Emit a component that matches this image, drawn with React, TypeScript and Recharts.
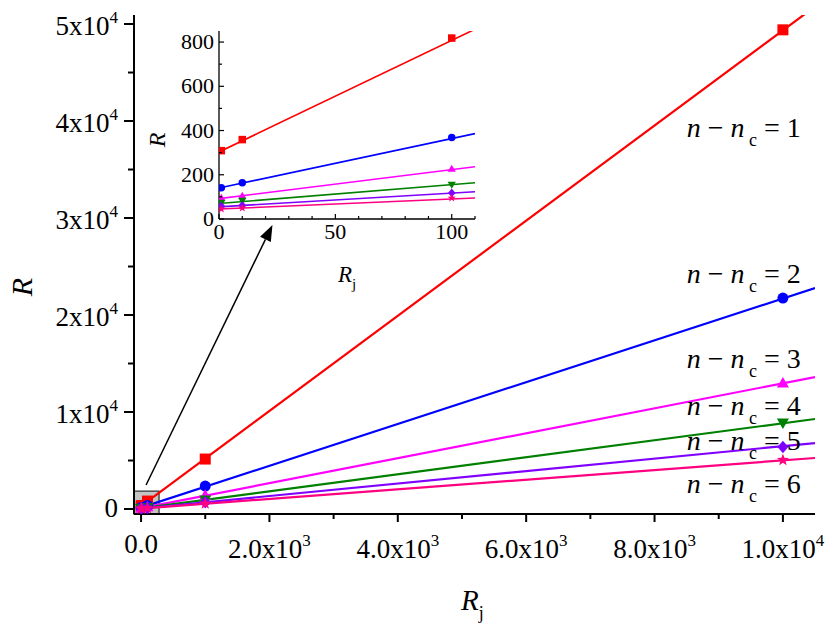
import React from 'react';
import {
  ComposedChart,
  Line,
  Scatter,
  XAxis,
  YAxis,
  ReferenceArea,
  ReferenceLine,
  ReferenceDot,
  CartesianGrid,
} from 'recharts';

const FONT = '"Liberation Serif"';
const TXT = { fontFamily: FONT };

// ---- data ----
const rjValues = [1, 10, 100, 1000, 10000];
const redR = [309, 359, 818, 5150, 49400];
const blueR = [141, 164, 368, 2370, 21750];
const magentaR = [95, 105, 227, 1420, 12990];
const greenR = [73, 82, 155, 950, 8870];
const purpleR = [59, 62, 118, 700, 6390];
const pinkR = [45, 50, 95, 560, 5050];

// straight fit lines, endpoints
const fitRjMain = [0, 10500];
const redFitMain = [300, 51800];
const blueFitMain = [140, 22780];
const magentaFitMain = [92, 13600];
const greenFitMain = [70, 9280];
const purpleFitMain = [55, 6800];
const pinkFitMain = [45, 5260];

const fitRjInset = [0, 110];
const redFitInset = [303, 858];
const blueFitInset = [140, 386];
const magentaFitInset = [92, 236];
const greenFitInset = [70, 164];
const purpleFitInset = [55, 123];
const pinkFitInset = [45, 95];

const seriesNames = ['1', '2', '3', '4', '5', '6'];
const labelRj = 10280;
const labelR = [38350, 23300, 14540, 9690, 6080, 1650];

// ticks
const mainXTicks = [0, 1000, 2000, 3000, 4000, 5000, 6000, 7000, 8000, 9000, 10000];
const mainXMajor = [0, 2000, 4000, 6000, 8000, 10000];
const mainXMajorText = ['0.0', '2.0x10', '4.0x10', '6.0x10', '8.0x10', '1.0x10'];
const mainXMajorExp = ['', '3', '3', '3', '3', '4'];
const mainYTicks = [0, 5000, 10000, 15000, 20000, 25000, 30000, 35000, 40000, 45000, 50000];
const mainYMajor = [0, 10000, 20000, 30000, 40000, 50000];
const mainYMajorText = ['0', '1x10', '2x10', '3x10', '4x10', '5x10'];
const mainYMajorExp = ['', '4', '4', '4', '4', '4'];

const insetXTicks = [0, 10, 20, 30, 40, 50, 60, 70, 80, 90, 100, 110];
const insetXMajor = [0, 50, 100];
const insetYTicks = [0, 100, 200, 300, 400, 500, 600, 700, 800];
const insetYMajor = [0, 200, 400, 600, 800];

const mainXDomain = [-110, 10500];
const mainYDomain = [-515, 50930];
const insetXDomain = [0, 110];
const insetYDomain = [0, 850];

// zoom box and arrow (data coordinates)
const zoomBoxRj = [-110, 280];
const zoomBoxR = [-515, 1850];
const arrowRj = [78, 2047];
const arrowR = [2470, 29280];

const colors = ['#ff0000', '#0000ff', '#ff00ff', '#008000', '#8000ff', '#ff0080'];
const kinds = ['square', 'circle', 'up', 'down', 'diamond', 'star'];
const seriesR = [redR, blueR, magentaR, greenR, purpleR, pinkR];
const fitsMain = [redFitMain, blueFitMain, magentaFitMain, greenFitMain, purpleFitMain, pinkFitMain];
const fitsInset = [redFitInset, blueFitInset, magentaFitInset, greenFitInset, purpleFitInset, pinkFitInset];

const pts = (xs: number[], ys: number[]) => xs.map((x, i) => ({ x, y: ys[i] }));

function Marker({ cx, cy, kind, color, s }: any) {
  if (cx == null || cy == null) return null;
  const h = s / 2;
  switch (kind) {
    case 'square':
      return <rect x={cx - h} y={cy - h} width={s} height={s} fill={color} />;
    case 'circle':
      return <circle cx={cx} cy={cy} r={h} fill={color} />;
    case 'up':
      return (
        <polygon
          points={`${cx},${cy - h * 1.1} ${cx - h * 1.1},${cy + h * 0.8} ${cx + h * 1.1},${cy + h * 0.8}`}
          fill={color}
        />
      );
    case 'down':
      return (
        <polygon
          points={`${cx},${cy + h * 1.1} ${cx - h * 1.1},${cy - h * 0.8} ${cx + h * 1.1},${cy - h * 0.8}`}
          fill={color}
        />
      );
    case 'diamond':
      return (
        <polygon
          points={`${cx},${cy - h * 1.15} ${cx + h},${cy} ${cx},${cy + h * 1.15} ${cx - h},${cy}`}
          fill={color}
        />
      );
    case 'star': {
      const R = h * 1.15;
      const r = R * 0.42;
      const p: string[] = [];
      for (let i = 0; i < 10; i++) {
        const a = -Math.PI / 2 + (i * Math.PI) / 5;
        const rr = i % 2 === 0 ? R : r;
        p.push(`${cx + rr * Math.cos(a)},${cy + rr * Math.sin(a)}`);
      }
      return <polygon points={p.join(' ')} fill={color} />;
    }
    default:
      return null;
  }
}

// ---- main ticks ----
const MainXTick = ({ x, y, payload }: any) => {
  const v = payload.value;
  const mi = mainXMajor.indexOf(v);
  const major = mi >= 0;
  const exp = major ? mainXMajorExp[mi] : '';
  return (
    <g>
      <line x1={x} x2={x} y1={y} y2={y + (major ? 8 : 5)} stroke="#000" strokeWidth={2} />
      {major && (
        <text x={x} y={y + (exp ? 44 : 39)} textAnchor="middle" style={TXT} fontSize={27} fill="#000">
          {mainXMajorText[mi]}
          {exp && (
            <tspan dy={-12} fontSize={17}>
              {exp}
            </tspan>
          )}
        </text>
      )}
    </g>
  );
};

const MainYTick = ({ x, y, payload }: any) => {
  const v = payload.value;
  const mi = mainYMajor.indexOf(v);
  const major = mi >= 0;
  const exp = major ? mainYMajorExp[mi] : '';
  return (
    <g>
      <line x1={x - (major ? 10 : 6)} x2={x} y1={y} y2={y} stroke="#000" strokeWidth={2} />
      {major && (
        <text x={x - 16} y={y + (exp ? 11 : 8)} textAnchor="end" style={TXT} fontSize={27} fill="#000">
          {mainYMajorText[mi]}
          {exp && (
            <tspan dy={-12} fontSize={17}>
              {exp}
            </tspan>
          )}
        </text>
      )}
    </g>
  );
};

const MainTopTick = ({ x, y, payload }: any) => {
  const major = mainXMajor.indexOf(payload.value) >= 0;
  return <line x1={x} x2={x} y1={y} y2={y + (major ? 9 : 5)} stroke="#000" strokeWidth={2} />;
};

const MainRightTick = ({ x, y, payload }: any) => {
  const major = mainYMajor.indexOf(payload.value) >= 0;
  return <line x1={x - (major ? 10 : 6)} x2={x} y1={y} y2={y} stroke="#000" strokeWidth={2} />;
};

// ---- inset ticks ----
const InsetXTick = ({ x, y, payload }: any) => {
  const v = payload.value;
  const major = insetXMajor.indexOf(v) >= 0;
  return (
    <g>
      <line x1={x} x2={x} y1={y} y2={y - (major ? 5 : 3)} stroke="#000" strokeWidth={1.2} />
      {major && (
        <text x={x} y={y + 20} textAnchor="middle" style={TXT} fontSize={22} fill="#000">
          {v}
        </text>
      )}
    </g>
  );
};

const InsetYTick = ({ x, y, payload }: any) => {
  const v = payload.value;
  const major = insetYMajor.indexOf(v) >= 0;
  return (
    <g>
      <line x1={x} x2={x + (major ? 5 : 3)} y1={y} y2={y} stroke="#000" strokeWidth={1.2} />
      {major && (
        <text x={x - 5} y={y + 7} textAnchor="end" style={TXT} fontSize={22} fill="#000">
          {v}
        </text>
      )}
    </g>
  );
};

const InsetTopTick = ({ x, y, payload }: any) => {
  const major = insetXMajor.indexOf(payload.value) >= 0;
  return <line x1={x} x2={x} y1={y} y2={y + (major ? 5 : 3)} stroke="#000" strokeWidth={1.2} />;
};

const InsetRightTick = ({ x, y, payload }: any) => {
  const major = insetYMajor.indexOf(payload.value) >= 0;
  return <line x1={x - (major ? 5 : 3)} x2={x} y1={y} y2={y} stroke="#000" strokeWidth={1.2} />;
};

const Arrow = (props: any) => {
  const { x1, y1, x2, y2 } = props;
  if ([x1, y1, x2, y2].some((v) => v == null || isNaN(v))) return null;
  const dx = x2 - x1;
  const dy = y2 - y1;
  const len = Math.sqrt(dx * dx + dy * dy);
  const ux = dx / len;
  const uy = dy / len;
  const hl = 16;
  const hw = 6;
  const bx = x2 - ux * hl;
  const by = y2 - uy * hl;
  return (
    <g>
      <line x1={x1} y1={y1} x2={bx} y2={by} stroke="#000" strokeWidth={1.5} />
      <polygon
        points={`${x2},${y2} ${bx - uy * hw},${by + ux * hw} ${bx + uy * hw},${by - ux * hw}`}
        fill="#000"
      />
    </g>
  );
};

const SeriesLabel = (props: any) => {
  const { cx, cy, name } = props;
  if (cx == null || cy == null) return null;
  return (
    <text x={cx} y={cy} textAnchor="end" style={TXT} fontSize={28} fill="#000">
      <tspan fontStyle="italic">n</tspan>
      <tspan>{' \u2212 '}</tspan>
      <tspan fontStyle="italic">n</tspan>
      <tspan fontSize={18} dy={9}>
        {' c'}
      </tspan>
      <tspan dy={-9}>{' = ' + name}</tspan>
    </text>
  );
};

const axisLineStyle = { stroke: '#000', strokeWidth: 2 };

function MainChart() {
  return (
    <ComposedChart width={830} height={628} margin={{ top: 15, right: 15, left: 0, bottom: 0 }}>
      <XAxis
        type="number"
        dataKey="x"
        domain={mainXDomain}
        allowDataOverflow
        ticks={mainXTicks}
        interval={0}
        height={114}
        tickSize={0}
        tickMargin={0}
        tickLine={false}
        axisLine={axisLineStyle}
        tick={(p: any) => <MainXTick {...p} />}
      />
      <XAxis
        xAxisId="top"
        orientation="top"
        type="number"
        dataKey="x"
        domain={mainXDomain}
        allowDataOverflow
        ticks={mainXTicks}
        interval={0}
        height={0}
        tickSize={0}
        tickMargin={0}
        tickLine={false}
        axisLine={axisLineStyle}
        tick={(p: any) => <MainTopTick {...p} />}
      />
      <YAxis
        type="number"
        dataKey="y"
        domain={mainYDomain}
        allowDataOverflow
        ticks={mainYTicks}
        interval={0}
        width={134}
        tickSize={0}
        tickMargin={0}
        tickLine={false}
        axisLine={axisLineStyle}
        tick={(p: any) => <MainYTick {...p} />}
      />
      <YAxis
        yAxisId="right"
        orientation="right"
        type="number"
        dataKey="y"
        domain={mainYDomain}
        allowDataOverflow
        ticks={mainYTicks}
        interval={0}
        width={0}
        tickSize={0}
        tickMargin={0}
        tickLine={false}
        axisLine={axisLineStyle}
        tick={(p: any) => <MainRightTick {...p} />}
      />
      <ReferenceArea
        x1={zoomBoxRj[0]}
        x2={zoomBoxRj[1]}
        y1={zoomBoxR[0]}
        y2={zoomBoxR[1]}
        fill="#c4c4c4"
        fillOpacity={1}
        stroke="#333"
        strokeWidth={1.3}
        ifOverflow="visible"
      />
      <ReferenceLine
        segment={[
          { x: arrowRj[0], y: arrowR[0] },
          { x: arrowRj[1], y: arrowR[1] },
        ]}
        ifOverflow="visible"
        shape={(p: any) => <Arrow {...p} />}
      />
      {colors.map((c, i) => (
        <Line
          key={'fit' + i}
          data={pts(fitRjMain, fitsMain[i])}
          dataKey="y"
          stroke={c}
          strokeWidth={2.2}
          dot={false}
          activeDot={false}
          isAnimationActive={false}
        />
      ))}
      {colors.map((c, i) => (
        <Scatter
          key={'pts' + i}
          data={pts(rjValues, seriesR[i])}
          dataKey="y"
          isAnimationActive={false}
          shape={(p: any) => <Marker cx={p.cx} cy={p.cy} kind={kinds[i]} color={c} s={11} />}
        />
      ))}
      {seriesNames.map((n, i) => (
        <ReferenceDot
          key={'lab' + i}
          x={labelRj}
          y={labelR[i]}
          r={0}
          ifOverflow="visible"
          shape={(p: any) => <SeriesLabel {...p} name={n} />}
        />
      ))}
    </ComposedChart>
  );
}

function InsetChart() {
  return (
    <ComposedChart width={340} height={290} margin={{ top: 11, right: 15, left: 0, bottom: 0 }}>
      <CartesianGrid fill="#ffffff" stroke="none" horizontal={false} vertical={false} />
      <XAxis
        type="number"
        dataKey="x"
        domain={insetXDomain}
        allowDataOverflow
        ticks={insetXTicks}
        interval={0}
        height={91}
        tickSize={0}
        tickMargin={0}
        tickLine={false}
        axisLine={{ stroke: '#000', strokeWidth: 1.3 }}
        tick={(p: any) => <InsetXTick {...p} />}
      />
      <XAxis
        xAxisId="top"
        orientation="top"
        type="number"
        dataKey="x"
        domain={insetXDomain}
        allowDataOverflow
        ticks={insetXTicks}
        interval={0}
        height={0}
        tickSize={0}
        tickMargin={0}
        tickLine={false}
        axisLine={{ stroke: '#000', strokeWidth: 1.3 }}
        tick={(p: any) => <InsetTopTick {...p} />}
      />
      <YAxis
        type="number"
        dataKey="y"
        domain={insetYDomain}
        allowDataOverflow
        ticks={insetYTicks}
        interval={0}
        width={69}
        tickSize={0}
        tickMargin={0}
        tickLine={false}
        axisLine={{ stroke: '#000', strokeWidth: 1.3 }}
        tick={(p: any) => <InsetYTick {...p} />}
      />
      <YAxis
        yAxisId="right"
        orientation="right"
        type="number"
        dataKey="y"
        domain={insetYDomain}
        allowDataOverflow
        ticks={insetYTicks}
        interval={0}
        width={0}
        tickSize={0}
        tickMargin={0}
        tickLine={false}
        axisLine={{ stroke: '#000', strokeWidth: 1.3 }}
        tick={(p: any) => <InsetRightTick {...p} />}
      />
      {colors.map((c, i) => (
        <Line
          key={'ifit' + i}
          data={pts(fitRjInset, fitsInset[i])}
          dataKey="y"
          stroke={c}
          strokeWidth={1.6}
          dot={false}
          activeDot={false}
          isAnimationActive={false}
        />
      ))}
      {colors.map((c, i) => (
        <Scatter
          key={'ipts' + i}
          data={pts(rjValues.slice(0, 3), seriesR[i].slice(0, 3))}
          dataKey="y"
          isAnimationActive={false}
          shape={(p: any) => <Marker cx={p.cx} cy={p.cy} kind={kinds[i]} color={c} s={7.5} />}
        />
      ))}
    </ComposedChart>
  );
}

export default function App() {
  return (
    <div
      style={{
        position: 'absolute',
        left: 0,
        top: 0,
        width: 830,
        height: 628,
        background: '#fff',
      }}
    >
      <div style={{ position: 'absolute', left: 0, top: 0 }}>
        <MainChart />
      </div>
      <div style={{ position: 'absolute', left: 150, top: 20 }}>
        <InsetChart />
      </div>
      <svg width={830} height={628} style={{ position: 'absolute', left: 0, top: 0, pointerEvents: 'none' }}>
        <text
          x={32}
          y={287}
          transform="rotate(-90 32 287)"
          textAnchor="middle"
          style={TXT}
          fontSize={30}
          fontStyle="italic"
          fill="#000"
        >
          R
        </text>
        <text x={461} y={610} style={TXT} fontSize={29} fill="#000">
          <tspan fontStyle="italic">R</tspan>
          <tspan fontSize={18} dy={9}>
            j
          </tspan>
        </text>
        <text
          x={165}
          y={140}
          transform="rotate(-90 165 140)"
          textAnchor="middle"
          style={TXT}
          fontSize={24}
          fontStyle="italic"
          fill="#000"
        >
          R
        </text>
        <text x={338} y={282} style={TXT} fontSize={23} fill="#000">
          <tspan fontStyle="italic">R</tspan>
          <tspan fontSize={15} dy={7}>
            j
          </tspan>
        </text>
      </svg>
    </div>
  );
}
